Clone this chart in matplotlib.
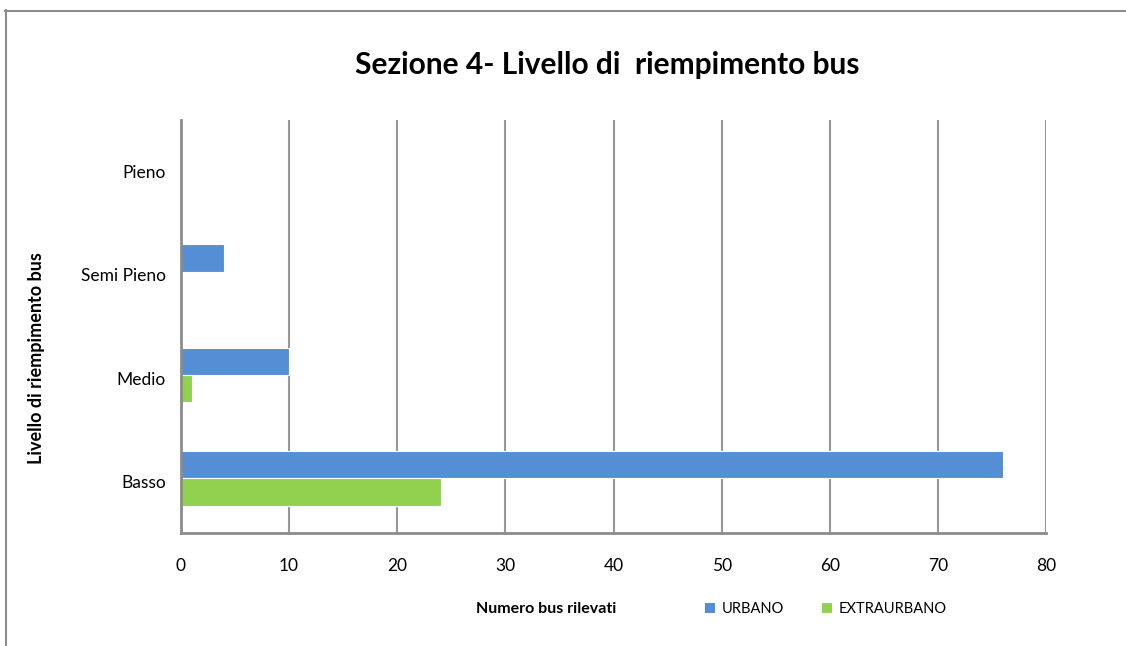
import numpy as np
import matplotlib.pyplot as plt
from matplotlib.lines import Line2D
from matplotlib.patches import Patch

plt.rcParams['font.family'] = ['Lato', 'DejaVu Sans']

# Data
categories = ["Basso", "Medio", "Semi Pieno", "Pieno"]
urbano = [76, 10, 4, 0]
extraurbano = [24, 1, 0, 0]
xticks = [0, 10, 20, 30, 40, 50, 60, 70, 80]

blue = "#558ED5"
green = "#92D050"
grid_gray = "#979797"

W, H = 1126, 646
fig = plt.figure(figsize=(W / 100, H / 100), dpi=100)
ax = fig.add_axes([181 / W, 1 - 533 / H, (1046 - 181) / W, (533 - 120) / H])

y = np.arange(len(categories))
h = 0.265
off = 0.03
ax.barh(y + h / 2 + off, urbano, height=h, color=blue, edgecolor="white", linewidth=0.8, label="URBANO", zorder=3)
ax.barh(y - h / 2 + off, extraurbano, height=h, color=green, edgecolor="white", linewidth=0.8, label="EXTRAURBANO", zorder=3)

ax.set_xlim(0, 80)
ax.set_ylim(-0.5, len(categories) - 0.5)
ax.set_xticks(xticks)
ax.set_xticklabels([str(t) for t in xticks], fontsize=12.5)
ax.set_yticks(y)
ax.set_yticklabels(categories, fontsize=12.5)
ax.tick_params(axis="both", length=0)
ax.tick_params(axis="x", pad=18)
ax.tick_params(axis="y", pad=11)

ax.xaxis.grid(True, color=grid_gray, linewidth=1.5, zorder=0)
ax.set_axisbelow(True)
for s in ["top", "right"]:
    ax.spines[s].set_visible(False)
for s in ["left", "bottom"]:
    ax.spines[s].set_color("#8c8c8c")
    ax.spines[s].set_linewidth(2)
    ax.spines[s].set_zorder(5)

# titles
fig.text(607 / W, 1 - 65 / H, "Sezione 4- Livello di  riempimento bus", ha="center", va="center",
         fontsize=21.5, fontweight="bold")
fig.text(37 / W, 1 - 358 / H, "Livello di riempimento bus", ha="center", va="center",
         rotation=90, fontsize=13, fontweight="bold")
fig.text(546 / W, 1 - 609 / H, "Numero bus rilevati", ha="center", va="center",
         fontsize=11.5, fontweight="bold")

# legend
handles = [Patch(facecolor=blue, edgecolor="none"), Patch(facecolor=green, edgecolor="none")]
fig.legend(handles, ["URBANO", "EXTRAURBANO"], loc="center left",
           bbox_to_anchor=(692 / W, 1 - 609 / H), ncol=2, frameon=False, fontsize=10.5,
           handlelength=0.65, handleheight=0.65, handletextpad=0.5, columnspacing=2.6)

# outer chart border
fig.add_artist(Line2D([5.5 / W, 5.5 / W], [0, 1 - 10 / H], color="#8c8c8c", linewidth=1.5))
fig.add_artist(Line2D([5 / W, 1], [1 - 10.5 / H, 1 - 10.5 / H], color="#8c8c8c", linewidth=1.5))

fig.savefig("out.png", dpi=100)
